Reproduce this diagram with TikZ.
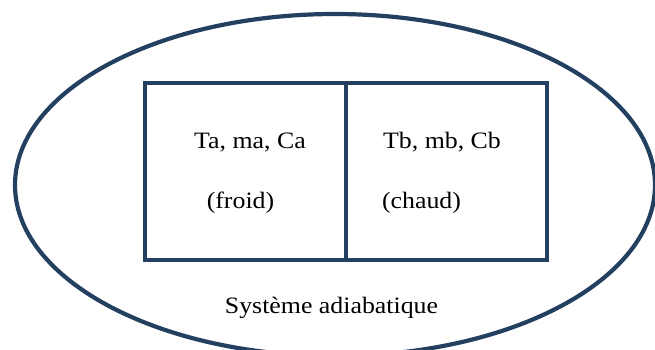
\documentclass[tikz,border=0pt]{standalone}
\usepackage{fontspec}
\setmainfont{Liberation Serif}
\usepackage{xcolor}
\usepackage{graphicx}
\definecolor{navy}{RGB}{36,64,97}
\newcommand{\wtxt}[1]{\scalebox{1.1}[1]{#1}}
\usetikzlibrary{calc}

\begin{document}
\begin{tikzpicture}[x=1pt, y=-1pt,
    box/.style={draw=navy, line width=4.8pt, minimum width=201pt, minimum height=177pt, inner sep=0pt},
    lbl/.style={anchor=base, inner sep=0pt, font=\fontsize{23.5}{28}\selectfont}]
      \useasboundingbox (0,0) rectangle (655,349);
      \clip (0,0) rectangle (655,349);

      \draw[navy, line width=4.2pt] (335,185) ellipse [x radius=320, y radius=171];

      \node[box] (froid) at (245.5,171.5) {};
      \node[box] (chaud) at (446.5,171.5) {};

      \node[lbl] (ta) at (250,148) {\wtxt{Ta, ma, Ca}};
      \node[lbl] (fr) at (240.5,208) {\wtxt{(froid)}};
      \node[lbl] (tb) at (442,148) {\wtxt{Tb, mb, Cb}};
      \node[lbl] (ch) at (421.5,208) {\wtxt{(chaud)}};
      \node[lbl] (sys) at (331.5,313) {\wtxt{Système adiabatique}};
    \end{tikzpicture}
\end{document}
